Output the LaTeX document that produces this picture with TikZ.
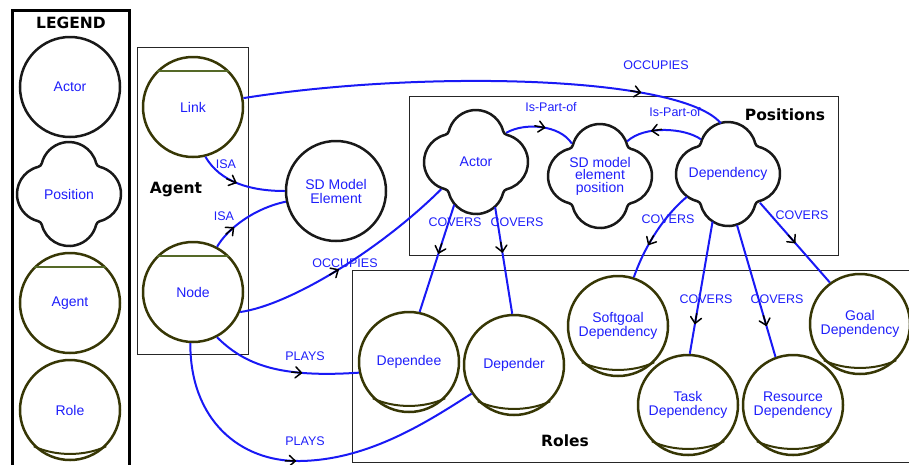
\documentclass[tikz,border=0pt]{standalone}
\usepackage{fontspec}
\setmainfont{Liberation Sans}
\newfontfamily\titlefont{DejaVu Sans}
\usetikzlibrary{calc,decorations.markings}

\definecolor{olivec}{RGB}{55,55,5}
\definecolor{aglinec}{RGB}{85,105,40}
\definecolor{linkblue}{RGB}{25,25,245}
\definecolor{txtblue}{RGB}{30,30,250}
\definecolor{outlinec}{RGB}{25,25,25}

\newcommand\agentbar[1]{\draw[agline] (#1.135) -- (#1.45);}
\newcommand\rolebar[1]{\draw[rolearcline] (#1.-135) .. controls ($(#1.center)+(-15pt,-46.5pt)$) and ($(#1.center)+(15pt,-46.5pt)$) .. (#1.-45);}

\begin{document}
\begin{tikzpicture}[x=1pt,y=-1pt,
  txt/.style={text=txtblue,font=\fontsize{14}{14}\selectfont,align=center},
  lbl/.style={text=txtblue,font=\fontsize{12.5}{13}\selectfont,inner sep=0pt},
  title/.style={font=\titlefont\bfseries\fontsize{15.5}{16}\selectfont,inner sep=0pt},
  plaincirc/.style={circle,draw=outlinec,line width=2.5pt,minimum size=100pt,inner sep=0pt,txt},
  agentcirc/.style={circle,draw=olivec,line width=2.5pt,minimum size=100pt,inner sep=0pt,txt},
  rolecirc/.style={agentcirc},
  cloudnode/.style={circle,minimum size=102pt,inner sep=0pt,txt},
  cloudline/.style={draw=outlinec,line width=2.5pt,line join=round},
  agline/.style={draw=aglinec,line width=2.5pt},
  rolearcline/.style={draw=olivec,line width=2pt},
  frame/.style={draw=black!85,line width=1pt},
  conn/.style={draw=linkblue,line width=2pt},
  arrowat/.style={postaction={decorate},decoration={markings,mark=at position #1 with {\draw[black,line width=1.5pt,line cap=round] (-10pt,0pt) -- (0pt,0pt); \draw[black,line width=1.5pt,line cap=round,line join=round] (-6pt,5.5pt) -- (0pt,0pt) -- (-6pt,-5.5pt);}}},
  cloudpic/.pic={\draw[cloudline] (27.16pt,30.79pt)
     arc[start angle=14.04,end angle=165.96,radius=28pt]
     arc[start angle=345.96,end angle=284.04,radius=5pt]
     arc[start angle=104.04,end angle=255.96,radius=28pt]
     arc[start angle=75.96,end angle=14.04,radius=5pt]
     arc[start angle=194.04,end angle=345.96,radius=28pt]
     arc[start angle=165.96,end angle=104.04,radius=5pt]
     arc[start angle=284.04,end angle=435.96,radius=28pt]
     arc[start angle=255.96,end angle=194.04,radius=5pt] -- cycle;}
]
\useasboundingbox (0,0) rectangle (909,464);
\clip (0,0) rectangle (909,464);

% ---------- legend ----------
\draw[line width=3pt] (12,10) rectangle (129,480);
\node[title] (legendt) at (71,23) {LEGEND};
\node[plaincirc] (lactor) at (70,87) {Actor};
\pic at (69,194) {cloudpic};
\node[cloudnode] (lposition) at (69,194) {Position};
\node[agentcirc] (lagent) at (70,303) {Agent};
\agentbar{lagent}
\node[rolecirc] (lrole) at (70,410) {Role};
\rolebar{lrole}

% ---------- agent box ----------
\draw[frame] (137,47) rectangle (248,354);
\node[title] (agentt) at (176,190) {Agent};
\node[agentcirc] (link) at (193,107) {Link};
\agentbar{link}
\node[agentcirc] (nodec) at (193,292) {Node};
\agentbar{nodec}

\node[plaincirc] (sdme) at (336,191) {SD Model\\Element};

% ---------- positions ----------
\draw[frame] (409,96) rectangle (838,255);
\node[title] (post) at (785,115) {Positions};
\pic at (476,162) {cloudpic};
\node[cloudnode] (pactor) at (476,162) {Actor};
\pic at (600,176) {cloudpic};
\node[cloudnode,font=\fontsize{14}{12.5}\selectfont] (psd) at (600,176) {SD model\\element\\position};
\pic at (728,174) {cloudpic};
\node[cloudnode] (pdep) at (728,174) {Dependency};

% ---------- roles ----------
\draw[frame] (352,270) rectangle (930,462);
\node[title] (rolest) at (565,441) {Roles};
\node[rolecirc] (dependee) at (409,362) {Dependee};
\rolebar{dependee}
\node[rolecirc] (depender) at (514,365) {Depender};
\rolebar{depender}
\node[rolecirc] (softgoal) at (618,326) {Softgoal\\Dependency};
\rolebar{softgoal}
\node[rolecirc] (task) at (688,405) {Task\\Dependency};
\rolebar{task}
\node[rolecirc] (resource) at (793,405) {Resource\\Dependency};
\rolebar{resource}
\node[rolecirc] (goal) at (860,324) {Goal\\Dependency};
\rolebar{goal}

% ---------- connectors ----------
\coordinate (playsmid) at (300,461);
\draw[conn,arrowat=0.45] (link.-76) .. controls (220,182) and (250,191) .. (sdme.180);
\draw[conn,arrowat=0.3] (nodec.62) .. controls (228,228) and (255,208) .. (sdme.192);
\draw[conn,arrowat=0.82] (link.10) .. controls (420,70) and (680,75) .. (pdep.98);
\draw[conn,arrowat=0.45] (nodec.-23) .. controls (290,305) and (380,250) .. ($(pactor.center)+(218:44pt)$);
\draw[conn,arrowat=0.62] (nodec.-62) .. controls (245,365) and (280,378) .. (dependee.192);
\draw[conn,arrowat=0.48] (nodec.-93) .. controls (190,420) and (240,462) .. (playsmid) .. controls (370,460) and (430,420) .. (depender.214);
\draw[conn,arrowat=0.55] ($(pactor.center)+(44:42pt)$) .. controls (525,122) and (560,125) .. ($(psd.center)+(131:43pt)$);
\draw[conn,arrowat=0.65] ($(pdep.center)+(128:44pt)$) .. controls (685,128) and (645,125) .. ($(psd.center)+(52:44pt)$);
\draw[conn,arrowat=0.45] ($(pactor.center)+(-117:48pt)$) -- (dependee.78);
\draw[conn,arrowat=0.42] ($(pactor.center)+(-67:49pt)$) -- (depender.92);
\draw[conn,arrowat=0.63] ($(pdep.center)+(-151:47pt)$) .. controls (665,215) and (645,245) .. (softgoal.72);
\draw[conn,arrowat=0.77] ($(pdep.center)+(-108:50pt)$) -- (task.88);
\draw[conn,arrowat=0.76] ($(pdep.center)+(-80:52pt)$) -- (resource.110);
\draw[conn,arrowat=0.5] ($(pdep.center)+(-42:43pt)$) -- (goal.126);

% ---------- labels ----------
\node[lbl] (isa1) at (226,164) {ISA};
\node[lbl] (isa2) at (224,216) {ISA};
\node[lbl] (occ1) at (656,65) {OCCUPIES};
\node[lbl] (occ2) at (345,263) {OCCUPIES};
\node[lbl] (plays1) at (305,356) {PLAYS};
\node[lbl] (plays2) at (305,441) {PLAYS};
\node[lbl] (ipo1) at (551,107) {Is-Part-of};
\node[lbl] (ipo2) at (675,112) {Is-Part-of};
\node[lbl] (cov1) at (455,222) {COVERS};
\node[lbl] (cov2) at (517,222) {COVERS};
\node[lbl] (cov3) at (668,219) {COVERS};
\node[lbl] (cov4) at (706,299) {COVERS};
\node[lbl] (cov5) at (777,299) {COVERS};
\node[lbl] (cov6) at (802,215) {COVERS};
\end{tikzpicture}
\end{document}
